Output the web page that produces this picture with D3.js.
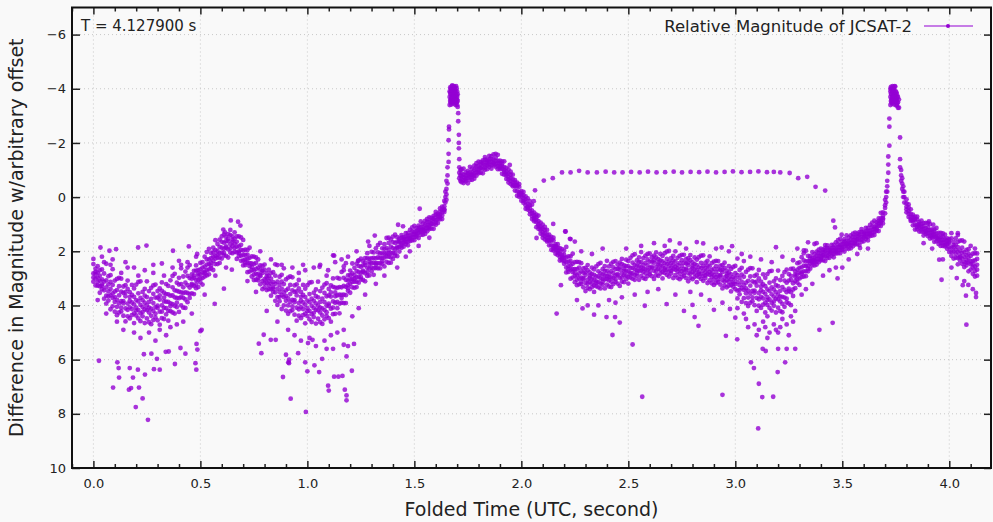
<!DOCTYPE html>
<html>
<head>
<meta charset="utf-8">
<script src="https://cdn.jsdelivr.net/npm/d3@7"></script>
<style>
  body { margin: 0; background: #f9f9f9; }
  svg { display: block; font-family: "DejaVu Sans", sans-serif; }
</style>
</head>
<body>
<div id="chart"></div>
<script>
// folded light curve, rows are [time, mag, mag, ...]
const bandA = [
  [0.00,2.47,2.82,2.97,2.28,3.12],[0.01,3.00,2.76,3.26,2.64,2.84],[0.02,2.55,2.97,2.79,3.27,3.13],[0.03,3.29,2.70,3.08,3.53,2.90],
  [0.04,3.04,3.28,2.67,3.22,3.40],[0.05,3.75,2.82,3.12,3.44,2.40],[0.06,2.46,3.07,3.64,3.33,3.93],[0.07,3.48,3.82,2.92,3.22,3.66],
  [0.08,3.13,4.14,3.63,2.88,3.39],[0.09,3.55,3.24,4.03,2.66,3.72],[0.10,3.08,3.87,3.48,4.23,3.69],[0.11,3.79,3.02,4.05,3.43,4.36],
  [0.12,3.63,3.92,3.29,4.26,2.98],[0.13,4.22,3.01,3.84,3.49,4.08],[0.14,3.54,3.84,4.38,3.30,3.92],[0.15,4.11,3.66,3.25,4.59,3.51],
  [0.16,3.39,3.93,4.16,3.08,4.40],[0.17,4.07,3.69,4.48,3.51,3.83],[0.18,3.24,3.89,3.61,4.36,4.13],[0.19,4.29,3.37,3.96,4.65,3.68],
  [0.20,3.80,4.19,3.23,4.08,4.37],[0.21,4.48,3.55,3.85,4.17,3.13],[0.22,3.11,3.72,4.29,3.98,4.58],[0.23,4.06,4.40,3.50,3.80,4.24],
  [0.24,3.64,4.65,4.14,3.39,3.90],[0.25,4.00,3.69,4.48,3.11,4.17],[0.26,3.47,4.26,3.87,4.62,4.08],[0.27,4.12,3.35,4.38,3.76,4.69],
  [0.28,3.91,4.20,3.57,4.54,3.26],[0.29,4.44,3.23,4.06,3.71,4.30],[0.30,3.71,4.01,4.55,3.47,4.09],[0.31,4.23,3.78,3.37,4.71,3.63],
  [0.32,3.46,4.00,4.23,3.15,4.47],[0.33,4.09,3.71,4.50,3.53,3.85],[0.34,3.21,3.86,3.58,4.33,4.10],[0.35,4.20,3.28,3.87,4.56,3.59],
  [0.36,3.64,4.03,3.07,3.92,4.21],[0.37,4.26,3.33,3.63,3.95,2.91],[0.38,2.83,3.44,4.01,3.70,4.30],[0.39,3.72,4.06,3.16,3.46,3.90],
  [0.40,3.23,4.24,3.73,2.98,3.49],[0.41,3.52,3.21,4.00,2.63,3.69],[0.42,2.93,3.72,3.33,4.08,3.54],[0.43,3.52,2.75,3.78,3.16,4.09],
  [0.44,3.25,3.54,2.91,3.88,2.60],[0.45,3.72,2.51,3.34,2.99,3.58],[0.46,3.01,3.20,3.55,2.85,3.25],[0.47,3.28,2.98,2.72,3.58,2.89],
  [0.48,2.71,3.06,3.21,2.52,3.36],[0.49,3.06,2.82,3.32,2.70,2.90],[0.50,2.43,2.85,2.67,3.15,3.01],[0.51,2.99,2.40,2.78,3.23,2.60],
  [0.52,2.57,2.81,2.20,2.75,2.93],[0.53,2.89,2.30,2.49,2.70,2.03],[0.54,1.91,2.30,2.67,2.47,2.85],[0.55,2.42,2.63,2.06,2.25,2.53],
  [0.56,2.04,2.69,2.36,1.87,2.20],[0.57,2.16,1.96,2.47,1.59,2.27],[0.58,1.73,2.24,1.99,2.47,2.12],[0.59,2.07,1.57,2.23,1.84,2.43],
  [0.60,1.87,2.05,1.65,2.27,1.45],[0.61,2.15,1.38,1.91,1.68,2.06],[0.62,1.63,1.82,2.17,1.47,1.87],[0.63,1.93,1.63,1.37,2.23,1.54],
  [0.64,1.40,1.75,1.90,1.21,2.05],[0.65,1.81,1.57,2.07,1.45,1.65]
];
const bandB = [
  [0.66,1.30,1.72,1.54,2.02,1.88],[0.67,2.04,1.45,1.83,2.28,1.65],[0.68,1.82,2.06,1.45,2.00,2.18],[0.69,2.35,1.76,1.95,2.16,1.49],
  [0.70,1.58,1.97,2.34,2.14,2.52],[0.71,2.30,2.51,1.94,2.13,2.41],[0.72,2.12,2.77,2.44,1.95,2.28],[0.73,2.44,2.24,2.75,1.87,2.55],
  [0.74,2.19,2.70,2.45,2.93,2.58],[0.75,2.70,2.20,2.86,2.47,3.06],[0.76,2.65,2.83,2.43,3.05,2.23],[0.77,3.07,2.30,2.83,2.60,2.98],
  [0.78,2.68,2.87,3.22,2.52,2.92],[0.79,3.10,2.80,2.54,3.40,2.71],[0.80,2.68,3.03,3.18,2.49,3.33],[0.81,3.17,2.93,3.43,2.81,3.01],
  [0.82,2.68,3.10,2.92,3.40,3.26],[0.83,3.40,2.81,3.19,3.64,3.01],[0.84,3.14,3.38,2.77,3.32,3.50],[0.85,3.83,2.90,3.20,3.52,2.48],
  [0.86,2.51,3.12,3.69,3.38,3.98],[0.87,3.50,3.84,2.94,3.24,3.68],[0.88,3.12,4.13,3.62,2.87,3.38],[0.89,3.52,3.21,4.00,2.63,3.69],
  [0.90,3.04,3.83,3.44,4.19,3.65],[0.91,3.74,2.97,4.00,3.38,4.31],[0.92,3.58,3.87,3.24,4.21,2.93],[0.93,4.17,2.96,3.79,3.44,4.03],
  [0.94,3.50,3.80,4.34,3.26,3.88],[0.95,4.08,3.63,3.22,4.56,3.48],[0.96,3.37,3.91,4.14,3.06,4.38],[0.97,4.06,3.68,4.47,3.50,3.82],
  [0.98,3.24,3.89,3.61,4.36,4.13],[0.99,4.30,3.38,3.97,4.66,3.69],[1.00,3.82,4.21,3.25,4.10,4.39],[1.01,4.51,3.58,3.88,4.20,3.16],
  [1.02,3.14,3.75,4.32,4.01,4.61],[1.03,4.09,4.43,3.53,3.83,4.27],[1.04,3.66,4.67,4.16,3.41,3.92],[1.05,4.01,3.70,4.49,3.12,4.18],
  [1.06,3.47,4.26,3.87,4.62,4.08],[1.07,4.11,3.34,4.37,3.75,4.68],[1.08,3.88,4.17,3.54,4.51,3.23],[1.09,4.39,3.18,4.01,3.66,4.25],
  [1.10,3.63,3.93,4.47,3.39,4.01],[1.11,4.12,3.67,3.26,4.60,3.52],[1.12,3.31,3.85,4.08,3.00,4.32],[1.13,3.90,3.52,4.31,3.34,3.66],
  [1.14,2.98,3.63,3.35,4.10,3.87],[1.15,3.93,3.01,3.60,4.29,3.32],[1.16,3.33,3.72,2.76,3.61,3.90],[1.17,3.91,2.98,3.28,3.60,2.56],
  [1.18,2.44,3.05,3.62,3.31,3.91],[1.19,3.25,3.46,2.89,3.08,3.36],[1.20,2.88,3.53,3.20,2.71,3.04],[1.21,3.02,2.82,3.33,2.45,3.13],
  [1.22,2.61,3.12,2.87,3.35,3.00],[1.23,2.96,2.46,3.12,2.73,3.32],[1.24,2.76,2.94,2.54,3.16,2.34],[1.25,3.04,2.27,2.80,2.57,2.95],
  [1.26,2.52,2.71,3.06,2.36,2.76],[1.27,2.81,2.51,2.25,3.11,2.42],[1.28,2.26,2.61,2.76,2.07,2.91],[1.29,2.63,2.39,2.89,2.27,2.47],
  [1.30,2.02,2.44,2.26,2.74,2.60],[1.31,2.63,2.04,2.42,2.87,2.24],[1.32,2.26,2.50,1.89,2.44,2.62],[1.33,2.63,2.04,2.23,2.44,1.77],
  [1.34,1.69,2.08,2.45,2.25,2.63],[1.35,2.25,2.46,1.89,2.08,2.36],[1.36,1.91,2.56,2.23,1.74,2.07],[1.37,2.08,1.88,2.39,1.51,2.19],
  [1.38,1.69,2.20,1.95,2.43,2.08],[1.39,2.06,1.56,2.22,1.83,2.42],[1.40,1.88,2.06,1.66,2.28,1.46],[1.41,2.16,1.39,1.92,1.69,2.07],
  [1.42,1.64,1.83,2.18,1.48,1.88],[1.43,1.84,1.67,1.53,2.01,1.62],[1.44,1.50,1.70,1.78,1.40,1.87],[1.45,1.68,1.55,1.83,1.48,1.60],
  [1.46,1.33,1.56,1.46,1.73,1.65],[1.47,1.65,1.32,1.53,1.78,1.43],[1.48,1.41,1.55,1.21,1.52,1.62],[1.49,1.60,1.27,1.38,1.49,1.12],
  [1.50,1.06,1.28,1.48,1.37,1.59],[1.51,1.35,1.47,1.15,1.25,1.41],[1.52,1.14,1.51,1.32,1.05,1.23],[1.53,1.22,1.11,1.39,0.90,1.28],
  [1.54,0.98,1.26,1.12,1.39,1.20],[1.55,1.16,0.88,1.25,1.03,1.36],[1.56,1.04,1.14,0.91,1.26,0.80],[1.57,1.18,0.75,1.04,0.92,1.13],
  [1.58,0.86,0.97,1.16,0.77,1.00],[1.59,1.00,0.83,0.69,1.17,0.78],[1.60,0.65,0.85,0.93,0.55,1.02],[1.61,0.81,0.68,0.96,0.61,0.73],
  [1.62,0.42,0.65,0.55,0.82,0.74],[1.63,0.68,0.35,0.56,0.81,0.46],[1.64,0.34,0.48,0.14,0.45,0.55]
];
const peak1 = [
  [1.645,-0.2,0.0,0.2],[1.65,-0.6,-0.3,-0.1,0.1],[1.655,-1.1,-0.8,-0.5],[1.66,-1.6,-1.3,-2.1],[1.662,-2.5,-2.6],
  [1.665,-3.4,-3.7,-3.9],[1.670,-3.5,-3.8,-4.0,-3.6],[1.675,-3.6,-3.9,-4.1,-3.7],[1.680,-3.5,-3.8,-4.0,-3.6],
  [1.685,-3.6,-3.9,-4.1,-3.8],[1.690,-3.5,-3.7,-4.0,-3.9],[1.695,-3.6,-3.8,-4.1,-3.5],[1.700,-3.4,-3.7,-3.9,-3.6],
  [1.705,-3.1,-2.8],[1.708,-2.3,-2.0,-1.8],[1.71,-1.4,-1.1,-0.9,-0.7],[1.715,-1.0,-0.8,-0.6],
  [1.6675,-3.55,-3.85,-4.05],[1.6725,-3.42,-3.66,-3.95],[1.6775,-3.52,-3.78,-4.12],[1.6825,-3.45,-3.72,-3.98],
  [1.6875,-3.58,-3.84,-4.06],[1.6925,-3.4,-3.65,-3.92],[1.6975,-3.5,-3.75,-4.02],[1.7025,-3.33,-3.55,-3.8]
];
const bandC = [
  [1.72,-0.55,-0.88,-0.77,-0.66,-1.03],[1.73,-1.05,-0.83,-0.63,-0.74,-0.52],[1.74,-0.71,-0.59,-0.91,-0.81,-0.65],
  [1.75,-0.88,-0.51,-0.70,-0.97,-0.79],[1.76,-0.80,-0.91,-0.63,-1.12,-0.74],[1.77,-1.05,-0.77,-0.91,-0.64,-0.83],
  [1.78,-0.88,-1.16,-0.79,-1.01,-0.68],[1.79,-1.01,-0.91,-1.14,-0.79,-1.25],[1.80,-0.88,-1.31,-1.02,-1.14,-0.93],
  [1.81,-1.20,-1.09,-0.90,-1.29,-1.06],[1.82,-1.05,-1.22,-1.36,-0.88,-1.27],[1.83,-1.38,-1.18,-1.10,-1.48,-1.01],
  [1.84,-1.18,-1.31,-1.03,-1.38,-1.26],[1.85,-1.52,-1.29,-1.39,-1.12,-1.20],[1.86,-1.18,-1.51,-1.30,-1.05,-1.40],
  [1.87,-1.38,-1.24,-1.58,-1.27,-1.17],[1.88,-1.12,-1.45,-1.34,-1.23,-1.60],[1.89,-1.56,-1.34,-1.14,-1.25,-1.03],
  [1.90,-1.15,-1.03,-1.35,-1.25,-1.09],[1.91,-1.23,-0.86,-1.05,-1.32,-1.14],[1.92,-1.00,-1.11,-0.83,-1.32,-0.94],
  [1.93,-1.08,-0.80,-0.94,-0.67,-0.86],[1.94,-0.74,-1.02,-0.65,-0.87,-0.54],[1.95,-0.70,-0.60,-0.83,-0.48,-0.94],
  [1.96,-0.40,-0.83,-0.54,-0.66,-0.45],[1.97,-0.54,-0.43,-0.24,-0.63,-0.40],[1.98,-0.22,-0.39,-0.53,-0.05,-0.44],
  [1.99,-0.38,-0.18,-0.10,-0.48,-0.01],[2.00,-0.02,-0.15,0.13,-0.22,-0.10],[2.01,-0.19,0.04,-0.06,0.21,0.13],
  [2.02,0.30,-0.03,0.18,0.43,0.08],[2.03,0.25,0.39,0.05,0.36,0.46],[2.04,0.63,0.30,0.41,0.52,0.15],
  [2.05,0.28,0.50,0.70,0.59,0.81],[2.06,0.77,0.89,0.57,0.67,0.83],[2.07,0.74,1.11,0.92,0.65,0.83],
  [2.08,1.00,0.89,1.17,0.68,1.06],[2.09,0.94,1.22,1.08,1.35,1.16],[2.10,1.30,1.02,1.39,1.17,1.50],
  [2.11,1.34,1.44,1.21,1.56,1.10],[2.12,1.64,1.21,1.50,1.38,1.59],[2.13,1.48,1.59,1.78,1.39,1.62],
  [2.14,1.78,1.61,1.47,1.95,1.56],[2.15,1.60,1.80,1.88,1.50,1.97],[2.16,1.94,1.81,2.09,1.74,1.86],
  [2.17,1.74,1.97,1.87,2.14,2.06],[2.18,2.21,1.88,2.09,2.34,1.99],[2.19,2.12,2.26,1.92,2.23,2.33],
  [2.20,2.46,2.13,2.24,2.35,1.98],[2.21,1.84,2.23,2.60,2.40,2.78],[2.22,2.55,2.76,2.19,2.38,2.66],
  [2.23,2.36,3.01,2.68,2.19,2.52],[2.24,2.66,2.46,2.97,2.09,2.77],[2.25,2.40,2.91,2.66,3.14,2.79],
  [2.26,2.89,2.39,3.05,2.66,3.25],[2.27,2.82,3.00,2.60,3.22,2.40],[2.28,3.21,2.44,2.97,2.74,3.12],
  [2.29,2.79,2.98,3.33,2.63,3.03],[2.30,3.17,2.87,2.61,3.47,2.78],[2.31,2.70,3.05,3.20,2.51,3.35],
  [2.32,3.14,2.90,3.40,2.78,2.98],[2.33,2.60,3.02,2.84,3.32,3.18],[2.34,3.26,2.67,3.05,3.50,2.87],
  [2.35,2.93,3.17,2.56,3.11,3.29],[2.36,3.33,2.74,2.93,3.14,2.47],[2.37,2.43,2.82,3.19,2.99,3.37],
  [2.38,3.02,3.23,2.66,2.85,3.13],[2.39,2.72,3.37,3.04,2.55,2.88],[2.40,2.92,2.72,3.23,2.35,3.03],
  [2.41,2.56,3.07,2.82,3.30,2.95],[2.42,2.96,2.46,3.12,2.73,3.32],[2.43,2.81,2.99,2.59,3.21,2.39],
  [2.44,3.13,2.36,2.89,2.66,3.04],[2.45,2.65,2.84,3.19,2.49,2.89],[2.46,2.98,2.68,2.42,3.28,2.59],
  [2.47,2.47,2.82,2.97,2.28,3.12],[2.48,2.88,2.64,3.14,2.52,2.72],[2.49,2.31,2.73,2.55,3.03,2.89],
  [2.50,2.95,2.36,2.74,3.19,2.56],[2.51,2.61,2.85,2.24,2.79,2.97],[2.52,3.01,2.42,2.61,2.82,2.15],
  [2.53,2.11,2.50,2.87,2.67,3.05],[2.54,2.70,2.91,2.34,2.53,2.81],[2.55,2.40,3.05,2.72,2.23,2.56],
  [2.56,2.60,2.40,2.91,2.03,2.71],[2.57,2.25,2.76,2.51,2.99,2.64],[2.58,2.66,2.16,2.82,2.43,3.02],
  [2.59,2.52,2.70,2.30,2.92,2.10],[2.60,2.85,2.08,2.61,2.38,2.76]
];
const bandD = [
  [2.61,2.38,2.57,2.92,2.22,2.62],[2.62,2.72,2.42,2.16,3.02,2.33],[2.63,2.23,2.58,2.73,2.04,2.88],
  [2.64,2.65,2.41,2.91,2.29,2.49],[2.65,2.10,2.52,2.34,2.82,2.68],[2.66,2.76,2.17,2.55,3.00,2.37],
  [2.67,2.44,2.68,2.07,2.62,2.80],[2.68,2.87,2.28,2.47,2.68,2.01],[2.69,1.99,2.38,2.75,2.55,2.93],
  [2.70,2.61,2.82,2.25,2.44,2.72],[2.71,2.34,2.99,2.66,2.17,2.50],[2.72,2.57,2.37,2.88,2.00,2.68],
  [2.73,2.24,2.75,2.50,2.98,2.63],[2.74,2.67,2.17,2.83,2.44,3.03],[2.75,2.55,2.73,2.33,2.95,2.13],
  [2.76,2.90,2.13,2.66,2.43,2.81],[2.77,2.45,2.64,2.99,2.29,2.69],[2.78,2.81,2.51,2.25,3.11,2.42],
  [2.79,2.33,2.68,2.83,2.14,2.98],[2.80,2.77,2.53,3.03,2.41,2.61],[2.81,2.23,2.65,2.47,2.95,2.81],
  [2.82,2.90,2.31,2.69,3.14,2.51],[2.83,2.59,2.83,2.22,2.77,2.95],[2.84,3.02,2.43,2.62,2.83,2.16],
  [2.85,2.15,2.54,2.91,2.71,3.09],[2.86,2.78,2.99,2.42,2.61,2.89],[2.87,2.52,3.17,2.84,2.35,2.68],
  [2.88,2.76,2.56,3.07,2.19,2.87],[2.89,2.44,2.95,2.70,3.18,2.83],[2.90,2.88,2.38,3.04,2.65,3.24],
  [2.91,2.77,2.95,2.55,3.17,2.35],[2.92,3.13,2.36,2.89,2.66,3.04],[2.93,2.69,2.88,3.23,2.53,2.93],
  [2.94,3.07,2.77,2.51,3.37,2.68],[2.95,2.61,2.96,3.11,2.42,3.26],[2.96,3.07,2.83,3.33,2.71,2.91],
  [2.97,2.55,2.97,2.79,3.27,3.13],[2.98,3.24,2.65,3.03,3.48,2.85],[2.99,2.95,3.19,2.58,3.13,3.31],
  [3.00,3.40,2.81,3.00,3.21,2.54],[3.01,2.27,2.88,3.45,3.14,3.74],[3.02,3.25,3.59,2.69,2.99,3.43],
  [3.03,2.86,3.87,3.36,2.61,3.12],[3.04,3.25,2.94,3.73,2.36,3.42],[3.05,2.76,3.55,3.16,3.91,3.37],
  [3.06,3.45,2.68,3.71,3.09,4.02],[3.07,3.27,3.56,2.93,3.90,2.62],[3.08,3.84,2.63,3.46,3.11,3.70],
  [3.09,3.15,3.45,3.99,2.91,3.53],[3.10,3.72,3.27,2.86,4.20,3.12],[3.11,3.00,3.54,3.77,2.69,4.01],
  [3.12,3.68,3.30,4.09,3.12,3.44],[3.13,2.85,3.50,3.22,3.97,3.74],[3.14,3.90,2.98,3.57,4.26,3.29],
  [3.15,3.41,3.80,2.84,3.69,3.98],[3.16,4.09,3.16,3.46,3.78,2.74],[3.17,2.72,3.33,3.90,3.59,4.19],
  [3.18,3.67,4.01,3.11,3.41,3.85],[3.19,3.25,4.26,3.75,3.00,3.51],[3.20,3.60,3.29,4.08,2.71,3.77],
  [3.21,3.06,3.85,3.46,4.21,3.67],[3.22,3.68,2.91,3.94,3.32,4.25],[3.23,3.42,3.71,3.08,4.05,2.77],
  [3.24,3.89,2.68,3.51,3.16,3.75],[3.25,3.08,3.38,3.92,2.84,3.46],[3.26,3.51,3.06,2.65,3.99,2.91],
  [3.27,2.64,3.18,3.41,2.33,3.65],[3.28,3.10,2.86,3.36,2.74,2.94],[3.29,2.44,2.86,2.68,3.16,3.02],
  [3.30,3.00,2.41,2.79,3.24,2.61],[3.31,2.59,2.83,2.22,2.77,2.95],[3.32,2.93,2.34,2.53,2.74,2.07],
  [3.33,1.98,2.37,2.74,2.54,2.92],[3.34,2.53,2.74,2.17,2.36,2.64],[3.35,2.27,2.64,2.45,2.18,2.36],
  [3.36,2.35,2.24,2.52,2.03,2.41],[3.37,2.11,2.39,2.25,2.52,2.33],[3.38,2.29,2.01,2.38,2.16,2.49],
  [3.39,2.18,2.28,2.05,2.40,1.94],[3.40,2.33,1.90,2.19,2.07,2.28],[3.41,2.03,2.14,2.33,1.94,2.17],
  [3.42,2.19,2.02,1.88,2.36,1.97],[3.43,1.88,2.08,2.16,1.78,2.25],[3.44,2.09,1.96,2.24,1.89,2.01],
  [3.45,1.76,1.99,1.89,2.16,2.08],[3.46,2.09,1.76,1.97,2.22,1.87],[3.47,1.87,2.01,1.67,1.98,2.08],
  [3.48,2.07,1.74,1.85,1.96,1.59],[3.49,1.54,1.76,1.96,1.85,2.07],[3.50,1.84,1.96,1.64,1.74,1.90],
  [3.51,1.64,2.01,1.82,1.55,1.73],[3.52,1.73,1.62,1.90,1.41,1.79],[3.53,1.50,1.78,1.64,1.91,1.72],
  [3.54,1.69,1.41,1.78,1.56,1.89],[3.55,1.59,1.69,1.46,1.81,1.35],[3.56,1.74,1.31,1.60,1.48,1.69],
  [3.57,1.44,1.55,1.74,1.35,1.58],[3.58,1.60,1.43,1.29,1.77,1.38],[3.59,1.28,1.48,1.56,1.18,1.65],
  [3.60,1.48,1.35,1.63,1.28,1.40],[3.61,1.14,1.37,1.27,1.54,1.46],[3.62,1.47,1.14,1.35,1.60,1.25],
  [3.63,1.23,1.37,1.03,1.34,1.44],[3.64,1.42,1.09,1.20,1.31,0.94],[3.65,0.87,1.09,1.29,1.18,1.40],
  [3.66,1.13,1.25,0.93,1.03,1.19],[3.67,0.88,1.25,1.06,0.79,0.97],[3.68,0.90,0.79,1.07,0.58,0.96],
  [3.69,0.56,0.84,0.70,0.97,0.78]
];
const peak2 = [
  [3.70,0.1,0.3,0.4,0.6],[3.705,-0.2,0.0,0.2],[3.71,-0.6,-0.4,-0.2],[3.715,-1.2,-0.9,-1.5],[3.72,-1.9,-2.6,-2.9],
  [3.725,-3.4,-3.7,-3.9,-4.0],[3.73,-3.5,-3.8,-4.0,-3.6],[3.735,-3.6,-3.9,-4.1,-3.7],[3.74,-3.5,-3.8,-4.0,-3.9],
  [3.745,-3.6,-3.8,-4.1,-3.7],[3.75,-3.5,-3.7,-3.9,-3.6],[3.755,-3.4,-3.6,-3.8],[3.76,-3.3,-3.5,-3.7],[3.765,-3.3,-3.6],
  [3.77,-2.2,-1.4,-1.1],[3.775,-1.0,-0.8,-0.6],[3.78,-0.7,-0.5,-0.3],[3.785,-0.4,-0.2,0.0],[3.79,-0.2,0.0,0.2],
  [3.7275,-3.55,-3.82,-4.07],[3.7325,-3.45,-3.68,-3.94],[3.7375,-3.58,-3.86,-4.03],[3.7425,-3.42,-3.71,-3.96],
  [3.7475,-3.55,-3.8,-4.08],[3.7525,-3.38,-3.62,-3.87],[3.7575,-3.47,-3.7]
];
const bandE = [
  [3.80,0.36,0.08,0.45,0.23,0.56],[3.81,0.51,0.61,0.38,0.73,0.27],[3.82,0.88,0.45,0.74,0.62,0.83],
  [3.83,0.74,0.85,1.04,0.65,0.88],[3.84,1.03,0.86,0.72,1.20,0.81],[3.85,0.82,1.02,1.10,0.72,1.19],
  [3.86,1.12,0.99,1.27,0.92,1.04],[3.87,0.87,1.10,1.00,1.27,1.19],[3.88,1.29,0.96,1.17,1.42,1.07],
  [3.89,1.15,1.29,0.95,1.26,1.36],[3.90,1.44,1.11,1.22,1.33,0.96],[3.91,1.00,1.22,1.42,1.31,1.53],
  [3.92,1.39,1.51,1.19,1.29,1.45],[3.93,1.28,1.65,1.46,1.19,1.37],[3.94,1.46,1.35,1.63,1.14,1.52],
  [3.95,1.32,1.60,1.46,1.73,1.54],[3.96,1.60,1.32,1.69,1.47,1.80],[3.97,1.58,1.68,1.45,1.80,1.34],
  [3.98,1.82,1.39,1.68,1.56,1.77],[3.99,1.61,1.72,1.91,1.52,1.75],[4.00,1.86,1.69,1.55,2.03,1.64],
  [4.01,1.52,1.87,2.02,1.33,2.17],[4.02,2.01,1.77,2.27,1.65,1.85],[4.03,1.52,1.94,1.76,2.24,2.10],
  [4.04,2.24,1.65,2.03,2.48,1.85],[4.05,1.98,2.22,1.61,2.16,2.34],[4.06,2.46,1.87,2.06,2.27,1.60],
  [4.07,1.64,2.03,2.40,2.20,2.58],[4.08,2.31,2.52,1.95,2.14,2.42],[4.09,2.09,2.74,2.41,1.92,2.25],
  [4.10,2.37,2.17,2.68,1.80,2.48],[4.11,2.09,2.60,2.35,2.83,2.48],[4.12,2.57,2.07,2.73,2.34,2.93],
  [4.13,2.50,2.68,2.28,2.90,2.08]
];
// scattered points around the band, [time, mag]
const halo = [
  [0.02,3.8],[0.04,2.2],[0.06,4.3],[0.08,2.5],[0.11,4.6],[0.13,2.8],[0.14,4.9],[0.16,2.6],[0.19,5.0],[0.21,2.9],
  [0.22,5.2],[0.24,2.7],[0.26,5.0],[0.28,2.8],[0.29,5.3],[0.31,4.9],[0.33,2.9],[0.34,5.1],[0.36,4.8],[0.37,2.6],
  [0.39,4.7],[0.41,2.5],[0.42,4.6],[0.44,2.4],[0.46,4.3],[0.48,2.2],[0.52,3.6],[0.57,2.9],[0.62,2.6],[0.72,3.1],
  [0.76,3.5],[0.78,2.0],[0.81,4.2],[0.83,2.3],[0.86,4.6],[0.88,2.5],[0.91,4.9],[0.93,2.6],[0.94,5.1],[0.96,2.8],
  [0.97,5.3],[0.99,2.7],[1.01,5.2],[1.03,2.6],[1.04,5.5],[1.06,2.5],[1.08,5.3],[1.09,2.9],[1.11,5.1],[1.13,2.4],
  [1.14,5.0],[1.16,2.3],[1.17,4.9],[1.19,2.2],[1.21,4.4],[1.23,2.0],[1.24,4.1],[1.27,3.6],[1.29,1.8],[1.32,3.2],
  [1.36,2.9],[1.38,1.5],[1.42,2.6],[1.46,2.2],[1.52,1.8],[1.57,1.5],
  [2.26,3.8],[2.28,2.0],[2.31,4.0],[2.33,2.1],[2.36,4.0],[2.38,1.9],[2.41,3.8],[2.44,3.9],[2.47,3.7],[2.49,1.9],
  [2.53,3.6],[2.56,1.8],[2.59,3.5],[2.62,1.7],[2.64,3.4],[2.67,1.8],[2.72,3.6],[2.77,1.9],[2.79,3.5],[2.84,3.6],
  [2.88,3.8],[2.91,1.9],[2.94,3.9],[2.97,2.0],[3.01,4.1],[3.03,2.1],[3.05,4.5],[3.07,2.2],[3.09,4.7],[3.11,4.9],
  [3.12,2.3],[3.14,4.8],[3.16,5.0],[3.17,2.4],[3.19,4.9],[3.21,4.8],[3.22,2.2],[3.24,4.7],[3.26,4.4],[3.28,4.2],
  [3.29,1.9],[3.31,3.6],[3.33,3.4],[3.36,3.2],[3.38,1.7],[3.41,2.9],[3.44,2.7],[3.47,2.6],[3.53,2.3],[3.57,2.1],
  [3.62,1.9],[3.88,1.7],[3.92,1.9],[3.97,2.3],[4.01,2.6],[4.04,1.4],[4.07,3.1],[4.11,3.4],[4.12,1.9],
  [3.06,4.8],[3.10,5.1],[3.13,4.6],[3.15,5.2],[3.18,4.7],[3.20,5.0],[3.22,4.5],[3.25,5.1],[3.27,4.6],[3.15,4.4],[3.04,4.3]
];
const outliers = [
  [0.255,8.22],[0.198,7.75],[0.23,7.43],[0.092,7.03],[0.166,7.11],[0.176,7.05],[0.213,7.03],[0.12,6.66],[0.026,6.04],
  [0.112,6.1],[0.118,6.31],[0.17,6.31],[0.185,6.66],[0.208,6.37],[0.241,6.55],[0.283,6.35],[0.31,6.37],[0.297,5.97],
  [0.236,5.8],[0.271,5.78],[0.338,5.71],[0.352,5.7],[0.381,6.16],[0.481,6.37],[0.477,6.13],[0.486,5.63],[0.482,5.42],
  [0.43,5.78],[0.407,5.57],[0.5,4.95],[0.506,4.9],[0.567,3.94],[0.61,3.38],[0.647,2.68],[0.773,5.41],[0.829,5.27],
  [0.852,5.27],[0.886,6.64],[0.911,6.1],[0.914,6.13],[0.922,7.44],[0.993,7.93],[0.99,6.1],[1.0,6.43],[1.033,6.21],
  [1.055,6.46],[1.069,5.97],[1.097,6.96],[1.10,7.14],[1.125,6.63],[1.145,6.63],[1.164,6.6],[1.175,7.11],[1.183,7.32],
  [1.183,7.5],[1.208,6.41],[1.183,5.88],[1.19,5.5],[1.218,5.42],[1.17,5.45],[1.12,5.6],[1.09,5.6],[0.957,5.76],
  [1.003,5.39],[1.024,5.27],[0.9,5.82],[0.915,6.0],[0.796,5.08],[0.785,5.76],[0.033,1.86],[0.075,1.98],[0.106,1.92],
  [0.209,1.86],[0.248,1.79],[0.372,1.98],[0.446,1.82],[0.485,2.1],[0.09,2.3],[0.15,2.4],[0.19,2.6],[0.28,2.5],
  [0.32,2.45],[0.4,2.35],[0.98,2.5],[1.057,2.57],[1.097,2.7],[1.125,2.16],[1.17,2.7],[1.237,2.35],[0.642,0.86],
  [0.676,0.91],[0.687,1.05],[0.607,1.2],[0.615,1.3],[1.479,2.0],[1.525,0.43],[1.424,1.02],[1.447,1.08],[1.315,1.42],
  [1.284,1.64],[1.12,2.15],[2.071,1.51],[2.149,0.99],[2.205,1.27],[2.227,1.54],[2.25,1.64],[1.946,-1.19],
  [2.165,4.3],[2.426,5.09],[2.52,5.44],[2.565,7.37],[2.94,7.3],[2.956,5.12],[3.009,5.25],[3.073,6.1],[3.087,6.31],
  [3.11,6.89],[3.126,7.38],[3.107,8.54],[3.177,7.37],[3.128,5.6],[3.142,5.68],[3.20,5.6],[3.24,5.6],[3.28,5.6],
  [3.233,6.1],[3.198,6.46],[3.393,4.9],[3.455,4.64],[3.5,2.6],[2.185,3.25],[2.286,4.11],[2.34,4.34],[2.398,4.43],
  [2.438,4.43],[2.46,4.63],[2.577,4.01],[2.679,3.95],[2.76,4.2],[2.80,3.98],[2.81,4.43],[2.828,4.75],[2.9,4.16],
  [2.975,4.13],[3.0,4.45],[3.19,1.85],[3.34,1.67],[3.37,1.73],[3.42,1.77],[2.82,1.66],[2.85,1.71],[2.694,1.6],
  [2.74,1.71],[2.985,1.81],[2.936,1.86],[2.207,1.27],[2.23,1.55],[3.953,2.31],[3.964,3.05],[4.04,1.33],[4.035,2.99],
  [4.063,3.25],[4.078,3.64],[4.125,3.54],[4.125,3.69],[4.089,3.24],[4.08,4.71],[3.905,0.9],[3.925,1.02],[3.458,0.87],
  [3.466,1.12],[3.497,1.39],[3.32,1.97],[3.583,1.88],[3.478,3.0]
];
// sparse upper track between the two peaks
const track = [
  [2.058,0.15],[2.064,-0.25],[2.105,-0.61],[2.147,-0.70],[2.19,-0.91],[2.23,-0.91],[2.27,-0.97],[2.31,-0.91],
  [2.353,-0.91],[2.394,-0.94],[2.434,-0.91],[2.473,-0.91],[2.513,-0.93],[2.553,-0.91],[2.592,-0.94],[2.632,-0.91],
  [2.672,-0.92],[2.712,-0.94],[2.751,-0.91],[2.791,-0.93],[2.831,-0.92],[2.870,-0.94],[2.910,-0.91],[2.950,-0.93],
  [2.989,-0.95],[3.029,-0.92],[3.069,-0.93],[3.108,-0.95],[3.148,-0.92],[3.18,-0.93],[3.21,-0.91],[3.254,-0.89],
  [3.294,-0.70],[3.336,-0.75],[3.375,-0.38],[3.42,-0.24]
];

const xMajor = [0, 0.5, 1.0, 1.5, 2.0, 2.5, 3.0, 3.5, 4.0];
const xMinor = [-0.1,0.1,0.2,0.3,0.4,0.6,0.7,0.8,0.9,1.1,1.2,1.3,1.4,1.6,1.7,1.8,1.9,2.1,2.2,2.3,2.4,
  2.6,2.7,2.8,2.9,3.1,3.2,3.3,3.4,3.6,3.7,3.8,3.9,4.1];
const yMajor = [-6, -4, -2, 0, 2, 4, 6, 8, 10];

const W = 993, H = 522;
const plotL = 72, plotR = 991, plotT = 7.5, plotB = 468;
const color = "#9400d3";

const svg = d3.select("#chart").append("svg")
    .attr("width", W)
    .attr("height", H);

const x = d3.scaleLinear().domain([-0.1, 4.195]).range([plotL, plotR]);
const y = d3.scaleLinear().domain([-7, 10]).range([plotT, plotB]);

// grid
svg.append("g").selectAll("line").data(xMajor).enter().append("line")
    .attr("x1", d => x(d)).attr("x2", d => x(d))
    .attr("y1", plotT).attr("y2", plotB)
    .attr("stroke", "#c8c8c8").attr("stroke-dasharray", "1,3");
svg.append("g").selectAll("line").data(yMajor.filter(d => d < 10)).enter().append("line")
    .attr("x1", plotL).attr("x2", plotR)
    .attr("y1", d => y(d)).attr("y2", d => y(d))
    .attr("stroke", "#c8c8c8").attr("stroke-dasharray", "1,3");

// points
const rows = [].concat(bandA, bandB, peak1, bandC, bandD, peak2, bandE);
const pts = rows.flatMap(r => r.slice(1).map(m => [r[0], m]))
    .concat(halo, outliers, track);

svg.append("clipPath").attr("id", "clip").append("rect")
    .attr("x", plotL).attr("y", plotT).attr("width", plotR - plotL).attr("height", plotB - plotT);

svg.append("g").attr("clip-path", "url(#clip)")
    .selectAll("circle").data(pts).enter().append("circle")
    .attr("cx", d => x(d[0]))
    .attr("cy", d => y(d[1]))
    .attr("r", 2.4)
    .attr("fill", color)
    .attr("fill-opacity", 0.8);

// axes
svg.append("g")
    .attr("transform", "translate(0," + plotB + ")")
    .call(d3.axisBottom(x).tickValues(xMajor).tickSizeInner(-7).tickSizeOuter(0)
        .tickPadding(11).tickFormat(d3.format(".1f")));
svg.append("g")
    .attr("transform", "translate(0," + plotB + ")")
    .call(d3.axisBottom(x).tickValues(xMinor).tickSizeInner(-4).tickSizeOuter(0).tickFormat(""));
svg.append("g")
    .attr("transform", "translate(0," + plotT + ")")
    .call(d3.axisTop(x).tickValues(xMajor).tickSizeInner(-7).tickSizeOuter(0).tickFormat(""));
svg.append("g")
    .attr("transform", "translate(0," + plotT + ")")
    .call(d3.axisTop(x).tickValues(xMinor).tickSizeInner(-4).tickSizeOuter(0).tickFormat(""));
svg.append("g")
    .attr("transform", "translate(" + plotL + ",0)")
    .call(d3.axisLeft(y).tickValues(yMajor).tickSizeInner(-8).tickSizeOuter(0).tickPadding(6));
svg.append("g")
    .attr("transform", "translate(" + plotR + ",0)")
    .call(d3.axisRight(y).tickValues(yMajor).tickSizeInner(-7).tickSizeOuter(0).tickFormat(""));

svg.selectAll(".domain").remove();
svg.selectAll(".tick line").attr("stroke", "#222").attr("stroke-width", 1.5);
svg.selectAll(".tick text").attr("font-size", 13).attr("fill", "#222")
    .attr("font-family", "DejaVu Sans, sans-serif");

svg.append("rect")
    .attr("x", plotL).attr("y", plotT)
    .attr("width", plotR - plotL).attr("height", plotB - plotT)
    .attr("fill", "none").attr("stroke", "#111").attr("stroke-width", 2);

// labels
svg.append("text")
    .attr("x", (plotL + plotR) / 2).attr("y", 516)
    .attr("text-anchor", "middle")
    .attr("font-size", 19).attr("fill", "#222")
    .text("Folded Time (UTC, second)");

svg.append("text")
    .attr("transform", "translate(23," + (plotT + plotB) / 2 + ") rotate(-90)")
    .attr("text-anchor", "middle")
    .attr("font-size", 19).attr("fill", "#222")
    .text("Difference in Magnitude w/arbitrary offset");

svg.append("text")
    .attr("x", 81).attr("y", 31)
    .attr("font-size", 15).attr("fill", "#222")
    .text("T = 4.127900 s");

// legend
svg.append("text")
    .attr("x", 912).attr("y", 32)
    .attr("text-anchor", "end")
    .attr("font-size", 16.5).attr("fill", "#222")
    .text("Relative Magnitude of JCSAT-2");
svg.append("line")
    .attr("x1", 924).attr("x2", 973).attr("y1", 26).attr("y2", 26)
    .attr("stroke", color).attr("stroke-opacity", 0.5).attr("stroke-width", 2);
svg.append("circle")
    .attr("cx", 948).attr("cy", 26).attr("r", 2)
    .attr("fill", color);
</script>
</body>
</html>
